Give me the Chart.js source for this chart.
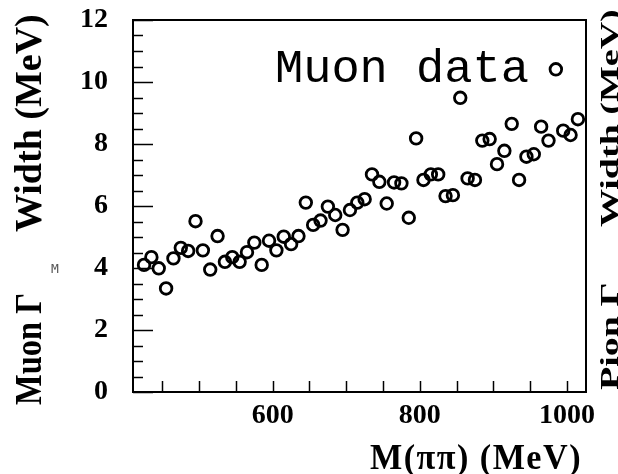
<!DOCTYPE html>
<html>
<head>
<meta charset="utf-8">
<script src="https://cdn.jsdelivr.net/npm/chart.js@4/dist/chart.umd.min.js"></script>
<style>
  html, body { margin: 0; padding: 0; background: #fff; }
  #chart { display: block; }
</style>
</head>
<body>
<canvas id="chart" width="618" height="474"></canvas>
<script>
// Dimuon mass bins (MeV)
const massBins = [425, 435, 445, 455, 465, 475, 485, 495, 505, 515,
                  525, 535, 545, 555, 565, 575, 585, 595, 605, 615,
                  625, 635, 645, 655, 665, 675, 685, 695, 705, 715,
                  725, 735, 745, 755, 765, 775, 785, 795, 805, 815,
                  825, 835, 845, 855, 865, 875, 885, 895, 905, 915,
                  925, 935, 945, 955, 965, 975, 985, 995, 1005, 1015];
// Fitted width per bin (MeV)
const muonWidths = [4.10, 4.35, 3.99, 3.34, 4.31, 4.65, 4.55, 5.51, 4.57, 3.95,
                    5.03, 4.20, 4.35, 4.20, 4.51, 4.82, 4.10, 4.88, 4.57, 5.01,
                    4.77, 5.03, 6.11, 5.39, 5.53, 5.98, 5.71, 5.23, 5.87, 6.11,
                    6.22, 7.02, 6.78, 6.08, 6.76, 6.73, 5.62, 8.18, 6.84, 7.02,
                    7.02, 6.32, 6.35, 9.49, 6.89, 6.84, 8.11, 8.16, 7.35, 7.78,
                    8.65, 6.84, 7.59, 7.67, 8.56, 8.11, 10.41, 8.43, 8.29, 8.80];
const xLabelTicks = [600, 800, 1000];
const yLabelTicks = [0, 2, 4, 6, 8, 10, 12];

const serifFamily = '"Liberation Serif", "Times New Roman", serif';

// Frame, inward ticks and all the titles
const framePlugin = {
    id: 'framePlugin',
    afterDraw(chart) {
        const ctx = chart.ctx;
        const area = chart.chartArea;
        const xs = chart.scales.x;
        const ys = chart.scales.y;
        ctx.save();
        ctx.strokeStyle = '#000';
        ctx.lineWidth = 2;
        ctx.strokeRect(area.left, area.top, area.right - area.left, area.bottom - area.top);

        // y ticks: long at labelled values, short in between
        ctx.lineWidth = 1.5;
        ys.ticks.forEach(t => {
            const py = Math.round(ys.getPixelForValue(t.value)) + 0.5;
            const len = yLabelTicks.includes(t.value) ? 20 : 10;
            ctx.beginPath();
            ctx.moveTo(area.left, py);
            ctx.lineTo(area.left + len, py);
            ctx.stroke();
        });
        // x ticks
        xs.ticks.forEach(t => {
            const px = Math.round(xs.getPixelForValue(t.value)) + 0.5;
            ctx.beginPath();
            ctx.moveTo(px, area.bottom);
            ctx.lineTo(px, area.bottom - 11);
            ctx.stroke();
        });

        ctx.fillStyle = '#000';
        ctx.textBaseline = 'alphabetic';
        ctx.textAlign = 'left';

        // legend-like label
        ctx.font = '47px "Liberation Mono", "Courier New", monospace';
        ctx.fillText('Muon data', 275, 82);

        // x title
        ctx.font = 'bold 35px ' + serifFamily;
        ctx.letterSpacing = '1.5px';
        ctx.fillText('M(ππ) (MeV)', 370, 469, 212);
        ctx.letterSpacing = '0px';

        // left title, rotated
        ctx.save();
        ctx.translate(41, 405);
        ctx.rotate(-Math.PI / 2);
        ctx.font = 'bold 38px ' + serifFamily;
        ctx.fillText('Muon Γ', 0, 0, 112);
        ctx.fillText('Width (MeV)', 173, 0, 222);
        ctx.restore();

        // small subscript marker
        ctx.font = '13px "DejaVu Sans Mono", monospace';
        ctx.fillStyle = '#555';
        ctx.fillText('M', 51, 273);
        ctx.fillStyle = '#000';

        // right title, rotated and squeezed against the edge
        ctx.save();
        ctx.translate(618, 390);
        ctx.rotate(-Math.PI / 2);
        ctx.scale(1, 0.66);
        ctx.font = 'bold 38px ' + serifFamily;
        ctx.fillText('Pion Γ', 0, 0, 113);
        ctx.fillText('Width (MeV)', 163, 0, 222);
        ctx.restore();

        ctx.restore();
    }
};

document.addEventListener('DOMContentLoaded', function() {
    const ctx = document.getElementById('chart').getContext('2d');
    const points = massBins.map((m, i) => ({ x: m, y: muonWidths[i] }));

    new Chart(ctx, {
        type: 'scatter',
        data: {
            datasets: [{
                label: 'Muon data',
                data: points,
                pointStyle: 'circle',
                pointRadius: 5.8,
                pointBorderWidth: 2.8,
                pointBorderColor: '#000',
                pointBackgroundColor: 'rgba(0,0,0,0)'
            }]
        },
        options: {
            responsive: false,
            animation: false,
            devicePixelRatio: 1,
            layout: {
                padding: { top: 20, right: 32, left: 0, bottom: 0 }
            },
            plugins: {
                legend: { display: false },
                tooltip: { enabled: false }
            },
            scales: {
                x: {
                    type: 'linear',
                    min: 410,
                    max: 1026,
                    grid: { display: false, drawTicks: false },
                    border: { display: false },
                    ticks: {
                        stepSize: 50,
                        includeBounds: false,
                        autoSkip: false,
                        maxRotation: 0,
                        padding: 7,
                        color: '#000',
                        font: { family: serifFamily, size: 28, weight: 'bold' },
                        callback: v => xLabelTicks.includes(v) ? String(v) : ''
                    },
                    afterFit: scale => { scale.height = 82; }
                },
                y: {
                    min: 0,
                    max: 12,
                    grid: { display: false, drawTicks: true, tickLength: 25 },
                    border: { display: false },
                    ticks: {
                        stepSize: 0.5,
                        autoSkip: false,
                        padding: 0,
                        color: '#000',
                        font: { family: serifFamily, size: 28, weight: 'bold' },
                        callback: v => yLabelTicks.includes(v) ? String(v) : ''
                    },
                    afterFit: scale => { scale.width = 133; }
                }
            }
        },
        plugins: [framePlugin]
    });
});
</script>
</body>
</html>
